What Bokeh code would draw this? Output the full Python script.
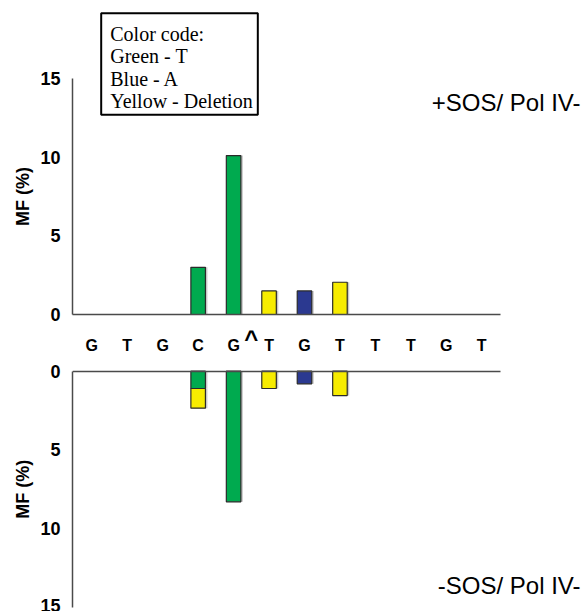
from bokeh.plotting import figure
from bokeh.layouts import column
from bokeh.models import Range1d, FixedTicker, ColumnDataSource, LinearAxis
from bokeh.transform import dodge
from bokeh.core.properties import value
from bokeh.embed import file_html
from bokeh.resources import INLINE

# ---------------- data ----------------
sequence = ["G", "T", "G", "C", "G", "T", "G", "T", "T", "T", "G", "T"]
positions = list(range(1, len(sequence) + 1))
caret_pos = 5.5          # insertion point between G(5) and T(6)

# top panel (+SOS / Pol IV-)
top_pos = [4, 5, 6, 7, 8]
top_vals = [3.0, 10.1, 1.5, 1.5, 2.05]
top_kind = ["T", "T", "Deletion", "A", "Deletion"]

# bottom panel (-SOS / Pol IV-), stacked segments
bot_pos = [4, 4, 5, 6, 7, 8]
bot_bottom = [0.0, 1.1, 0.0, 0.0, 0.0, 0.0]
bot_vals = [1.1, 1.25, 8.3, 1.1, 0.8, 1.55]
bot_kind = ["T", "Deletion", "T", "Deletion", "A", "Deletion"]

y_ticks = [0, 5, 10, 15]
legend_lines = ["Color code:", "Green - T", "Blue - A", "Yellow - Deletion"]
top_title = "+SOS/ Pol IV-"
bot_title = "-SOS/ Pol IV-"
y_title = "MF (%)"

colors = {"T": "#00AA4F", "A": "#2B3990", "Deletion": "#F7EC00"}

# ---------------- geometry ----------------
PX_X = 35.45          # pixels per position
PX_Y = 15.733         # pixels per % MF
LEFT = 72
FRAME_W = 510
TOP_FRAME_H = 314
TOP_BORDER_B = 10
ZERO_BOT = 370.7      # page y of the lower panel's zero line
BOT_FRAME_H = 611 - TOP_FRAME_H - TOP_BORDER_B
X0 = 1 - 19.3 / PX_X
X1 = X0 + FRAME_W / PX_X
AXIS_END = 12.53
BAR_W = 0.41

FONT = "Liberation Sans"


def style_common(p):
    p.grid.visible = False
    p.outline_line_color = None
    for ax in list(p.xaxis) + list(p.yaxis):
        ax.axis_line_color = "#4a4a4a"
        ax.axis_line_width = 1.5
        ax.major_tick_line_color = None
        ax.minor_tick_line_color = None
        ax.major_tick_out = 0
        ax.major_tick_in = 0
    p.xaxis.bounds = (X0, AXIS_END)
    p.xaxis.ticker = FixedTicker(ticks=[])
    p.xaxis.major_label_text_font_size = "0px"
    ya = p.yaxis[0]
    ya.bounds = (0, 15)
    ya.ticker = FixedTicker(ticks=y_ticks)
    ya.major_label_text_font = FONT
    ya.major_label_text_font_style = "bold"
    ya.major_label_text_font_size = "18px"
    ya.major_label_text_color = "black"
    ya.major_label_standoff = 12
    # axis title as a single tick label, centred on the 0-15 span
    t = LinearAxis(ticker=FixedTicker(ticks=[7.5]),
                   major_label_overrides={7.5: y_title},
                   major_label_orientation="parallel",
                   axis_line_color=None, major_tick_line_color=None,
                   minor_tick_line_color=None, major_tick_out=0, major_tick_in=0,
                   major_label_text_font=FONT, major_label_text_font_style="bold",
                   major_label_text_font_size="18px", major_label_text_color="black",
                   major_label_standoff=4)
    p.add_layout(t, "left")


def bars(p, src):
    p.vbar(x=dodge("x", 2 / PX_X, range=p.x_range), top="top", bottom="bottom",
           width=BAR_W, source=src, fill_color="#c8c8c8", line_color=None)
    p.vbar(x="x", top="top", bottom="bottom", width=BAR_W, source=src,
           fill_color="color", line_color="#2a2a2a", line_width=1.2)


# ---------------- top figure ----------------
p1 = figure(frame_width=FRAME_W, frame_height=TOP_FRAME_H,
            x_range=Range1d(X0, X1), y_range=Range1d(0, TOP_FRAME_H / PX_Y),
            min_border_left=LEFT, min_border_right=0, min_border_top=0,
            min_border_bottom=TOP_BORDER_B, toolbar_location=None,
            output_backend="svg", background_fill_color="white",
            border_fill_color="white")
style_common(p1)

src1 = ColumnDataSource(dict(x=top_pos, top=top_vals,
                             bottom=[0] * len(top_pos),
                             color=[colors[k] for k in top_kind]))
bars(p1, src1)

# legend box
p1.quad(left=[1.265], right=[5.683], top=[19.15], bottom=[12.69],
        fill_color="white", line_color="black", line_width=2)
leg_y = [17.86 - i * (22.5 / PX_Y) for i in range(len(legend_lines))]
p1.text(x=[1.52] * len(legend_lines), y=leg_y, text=legend_lines,
        text_font=value("Liberation Serif"), text_font_size="20px",
        text_baseline="middle", text_align="left", text_color="black")

p1.text(x=[14.786], y=[13.47], text=[top_title],
        text_font=value(FONT), text_font_size="24px",
        text_baseline="middle", text_align="right", text_color="black")

# ---------------- bottom figure ----------------
zero_px = ZERO_BOT - (TOP_FRAME_H + TOP_BORDER_B)   # zero line below frame top
y_top = -zero_px / PX_Y
y_bot = (BOT_FRAME_H - zero_px) / PX_Y

p2 = figure(frame_width=FRAME_W, frame_height=BOT_FRAME_H,
            x_range=Range1d(X0, X1), y_range=Range1d(y_bot, y_top),
            x_axis_location="above",
            min_border_left=LEFT, min_border_right=0, min_border_top=0,
            min_border_bottom=0, toolbar_location=None, output_backend="svg",
            background_fill_color="white", border_fill_color="white")
style_common(p2)
p2.xaxis[0].fixed_location = 0

src2 = ColumnDataSource(dict(x=bot_pos,
                             top=[b + v for b, v in zip(bot_bottom, bot_vals)],
                             bottom=bot_bottom,
                             color=[colors[k] for k in bot_kind]))
bars(p2, src2)

# sequence letters and insertion caret
p2.text(x=positions, y=[-1.63] * len(positions), text=sequence,
        text_font=value(FONT), text_font_style="bold", text_font_size="16px",
        text_baseline="middle", text_align="center", text_color="black")
p2.text(x=[caret_pos], y=[-2.05], text=["^"],
        text_font=value(FONT), text_font_style="bold", text_font_size="24px",
        text_baseline="middle", text_align="center", text_color="black")

p2.text(x=[14.786], y=[13.62], text=[bot_title],
        text_font=value(FONT), text_font_size="24px",
        text_baseline="middle", text_align="right", text_color="black")

layout = column(p1, p2, spacing=0)
open("out.html", "w").write(file_html(layout, INLINE))
